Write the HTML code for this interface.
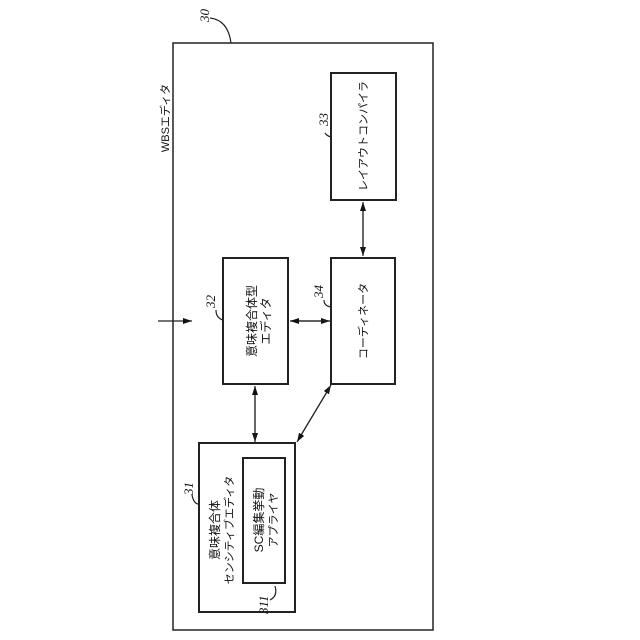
<!DOCTYPE html>
<html><head><meta charset="utf-8"><style>
html,body{margin:0;padding:0;background:#fff;}
svg{display:block}
text{font-family:"Liberation Sans","Noto Sans CJK JP",sans-serif;fill:#111}
.n{font-family:"Liberation Serif","Noto Serif CJK SC",serif;font-style:italic;font-size:13px}
</style></head><body>
<svg width="640" height="640" viewBox="0 0 640 640" xmlns="http://www.w3.org/2000/svg">
<defs>
<marker id="a" markerWidth="10" markerHeight="8" refX="9" refY="4" orient="auto" markerUnits="userSpaceOnUse">
<path d="M0,1 L9,4 L0,7 Z" fill="#111"/></marker>
</defs>
<g fill="none" stroke="#222">
<rect x="173" y="43" width="260" height="587" stroke-width="1.5"/>
<rect x="331" y="73" width="65" height="127" stroke-width="2"/>
<rect x="223" y="258" width="65" height="126" stroke-width="2"/>
<rect x="331" y="258" width="64" height="126" stroke-width="2"/>
<rect x="199" y="443" width="96" height="169" stroke-width="2"/>
<rect x="243" y="458" width="42" height="125" stroke-width="2"/>
<g stroke-width="1.2">
<line x1="363" y1="203" x2="363" y2="256" marker-end="url(#a)"/>
<line x1="363" y1="255" x2="363" y2="202" marker-end="url(#a)"/>
<line x1="291" y1="321" x2="330" y2="321" marker-end="url(#a)"/>
<line x1="329" y1="321" x2="290" y2="321" marker-end="url(#a)"/>
<line x1="255" y1="387" x2="255" y2="442" marker-end="url(#a)"/>
<line x1="255" y1="441" x2="255" y2="386" marker-end="url(#a)"/>
<line x1="298" y1="440" x2="331" y2="385" marker-end="url(#a)"/>
<line x1="330" y1="387" x2="297" y2="442" marker-end="url(#a)"/>
<line x1="158" y1="321" x2="192" y2="321" marker-end="url(#a)"/>
<path d="M210,18 Q228,20 231,43"/>
<path d="M325,133 Q327,136 331,137"/>
<path d="M216,310 Q216,318 223,320"/>
<path d="M324,300 Q324,306 331,307"/>
<path d="M192,495 Q194,505 200,504"/>
<path d="M275,586 Q278,596 270,600"/>
</g>
</g>
<g font-size="11">
<text transform="translate(169,118) rotate(-90)" text-anchor="middle">WBSエディタ</text>
<text transform="translate(367,136) rotate(-90)" text-anchor="middle">レイアウトコンパイラ</text>
<text transform="translate(256,321) rotate(-90)" text-anchor="middle" font-size="12">意味複合体型</text>
<text transform="translate(270,321) rotate(-90)" text-anchor="middle" font-size="12">エディタ</text>
<text transform="translate(367,321) rotate(-90)" text-anchor="middle">コーディネータ</text>
<text transform="translate(219,530) rotate(-90)" text-anchor="middle" font-size="12">意味複合体</text>
<text transform="translate(233,530) rotate(-90)" text-anchor="middle">センシティブエディタ</text>
<text transform="translate(263,520) rotate(-90)" text-anchor="middle" font-size="12">SC編集挙動</text>
<text transform="translate(277,520) rotate(-90)" text-anchor="middle">アプライヤ</text>
</g>
<text class="n" transform="translate(209,22) rotate(-90)">30</text>
<text class="n" transform="translate(328,126) rotate(-90)">33</text>
<text class="n" transform="translate(215,308) rotate(-90)">32</text>
<text class="n" transform="translate(323,298) rotate(-90)">34</text>
<text class="n" transform="translate(193,495) rotate(-90)">31</text>
<text class="n" transform="translate(268,614) rotate(-90)">311</text>
</svg>
</body></html>
